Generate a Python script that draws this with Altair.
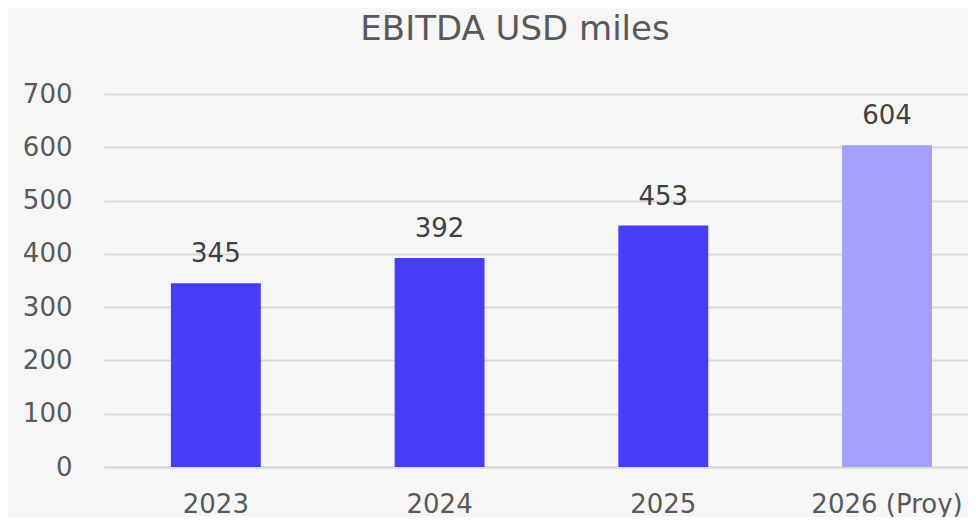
import altair as alt
import pandas as pd

years = ["2023", "2024", "2025", "2026 (Proy)"]
values = [345, 392, 453, 604]
kind = ["real", "real", "real", "proy"]

df = pd.DataFrame({"year": years, "value": values, "kind": kind})

FONT = "DejaVu Sans"

x = alt.X("year:N", sort=years, title=None,
          scale=alt.Scale(paddingInner=0.598, paddingOuter=0.230, align=0.65),
          axis=alt.Axis(labelAngle=0, labelFontSize=26, labelColor="#595959", labelFont=FONT,
                        labelPadding=45, ticks=False, domain=True, domainColor="#d9d9d9",
                        domainWidth=2, labelBaseline="alphabetic"))

bars = alt.Chart(df).mark_bar().encode(
    x=x,
    y=alt.Y("value:Q", title=None,
            scale=alt.Scale(domain=[0, 700]),
            axis=alt.Axis(values=[0, 100, 200, 300, 400, 500, 600, 700], labelFontSize=26,
                          labelColor="#595959", labelFont=FONT, labelPadding=32, ticks=False,
                          domain=False, gridColor="#d9d9d9", gridWidth=2)),
    color=alt.Color("kind:N", scale=alt.Scale(domain=["real", "proy"], range=["#483df6", "#a7a0fb"]),
                    legend=None),
)

labels = alt.Chart(df).mark_text(baseline="alphabetic", dy=-21, fontSize=26, color="#404040", font=FONT).encode(
    x=alt.X("year:N", sort=years),
    y="value:Q",
    text="value:Q",
)

chart = alt.layer(bars, labels).properties(
    width=864, height=373,
    autosize=alt.AutoSizeParams(type="none"),
    padding={"left": 96, "top": 86, "right": 0, "bottom": 50},
    background="#f6f6f6",
    title=alt.TitleParams("EBITDA USD miles", fontSize=34, font=FONT, color="#595959",
                          fontWeight="normal", anchor="middle", dx=-21, offset=34),
).configure_view(stroke=None)

chart.save("out.html", embed_options={"renderer": "svg", "actions": False})
